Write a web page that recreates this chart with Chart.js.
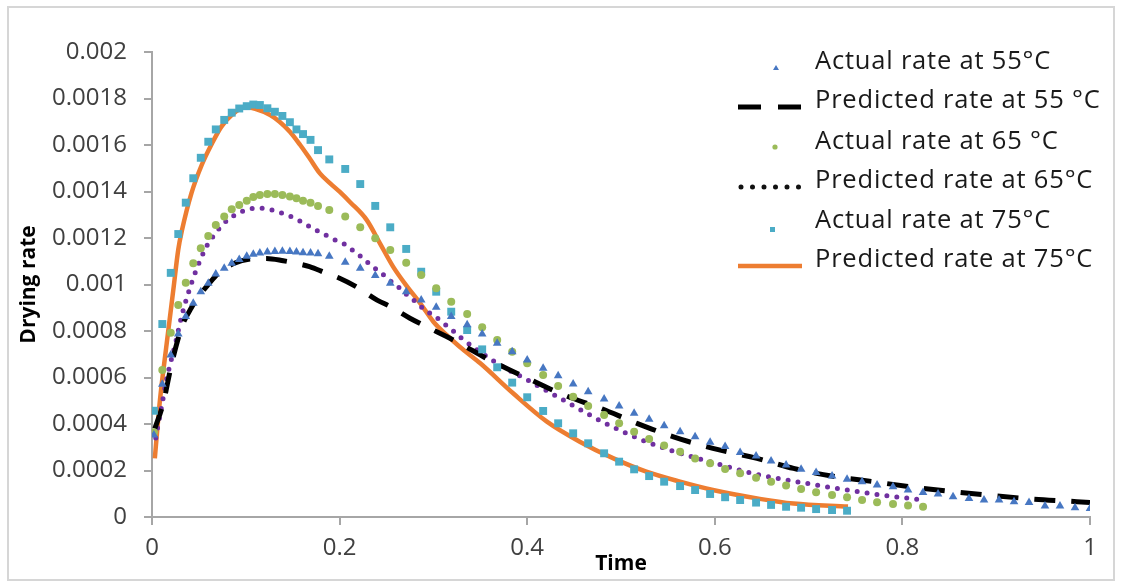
<!DOCTYPE html>
<html>
<head>
<meta charset="utf-8">
<script src="https://cdn.jsdelivr.net/npm/chart.js@4.4.1/dist/chart.umd.min.js"></script>
<style>
  html, body { margin: 0; padding: 0; background: #fff; }
  #wrap { position: relative; width: 1121px; height: 582px; }
</style>
</head>
<body>
<div id="wrap"><canvas id="chart" width="1121" height="582"></canvas></div>
<script>
// measured sampling times (normalised), shared by the three measured series
const timeActual = [0.002, 0.011, 0.020, 0.028, 0.036, 0.044, 0.052, 0.060, 0.068, 0.077,
  0.085, 0.093, 0.101, 0.108, 0.115, 0.123, 0.131, 0.139, 0.147, 0.154,
  0.161, 0.169, 0.177, 0.189, 0.206, 0.222, 0.238, 0.254, 0.271, 0.287,
  0.303, 0.319, 0.336, 0.352, 0.368, 0.384, 0.400, 0.417, 0.433, 0.449,
  0.465, 0.482, 0.498, 0.514, 0.530, 0.546, 0.563, 0.579, 0.595, 0.611,
  0.627, 0.644, 0.660, 0.676, 0.692, 0.708, 0.725, 0.741, 0.757, 0.773,
  0.790, 0.806, 0.822, 0.838, 0.854, 0.871, 0.887, 0.903, 0.919, 0.935,
  0.952, 0.968, 0.984, 1.000];

const actual55 = [0.000353, 0.000571, 0.000697, 0.000787, 0.000862, 0.000919, 0.000969, 0.001005, 0.001045, 0.00107,
  0.001091, 0.001108, 0.001121, 0.00113, 0.001136, 0.00114, 0.001142, 0.001143, 0.001142, 0.00114,
  0.001137, 0.001135, 0.001132, 0.001122, 0.001096, 0.00107, 0.001039, 0.001005, 0.000969, 0.000933,
  0.000902, 0.000862, 0.000827, 0.000787, 0.000747, 0.000711, 0.000675, 0.00064, 0.000608, 0.000572,
  0.000539, 0.000508, 0.000477, 0.000446, 0.00042, 0.000393, 0.000367, 0.000345, 0.000321, 0.000303,
  0.000277, 0.000262, 0.000241, 0.000224, 0.000205, 0.000191, 0.000176, 0.000162, 0.000152, 0.000138,
  0.00013, 0.000116, 0.000105, 0.000099, 0.000087, 0.00008, 0.000073, 0.000073, 0.000066, 0.000062,
  0.000047, 0.000047, 0.00004, 0.000037];

const actual65 = [0.000364, 0.000632, 0.000793, 0.000912, 0.001008, 0.001091, 0.001156, 0.001209, 0.001256, 0.001292,
  0.001324, 0.001342, 0.00136, 0.001376, 0.001385, 0.001389, 0.001389, 0.001385, 0.001378, 0.001371,
  0.00136, 0.001352, 0.001338, 0.00132, 0.001292, 0.001246, 0.001199, 0.001148, 0.001094, 0.001041,
  0.000984, 0.000926, 0.000873, 0.000816, 0.000761, 0.000711, 0.000661, 0.000611, 0.000563, 0.000517,
  0.000477, 0.000439, 0.000403, 0.000367, 0.000335, 0.000307, 0.000281, 0.000252, 0.000231, 0.000206,
  0.000188, 0.000169, 0.000152, 0.000135, 0.00012, 0.000106, 0.000095, 0.000085, 0.000073, 0.000063,
  0.000056, 0.000049, 0.000044];

const actual75 = [0.000457, 0.00083, 0.00105, 0.001217, 0.001352, 0.001457, 0.001545, 0.001614, 0.001667, 0.001708,
  0.001739, 0.001757, 0.001767, 0.001774, 0.001772, 0.001758, 0.001743, 0.001725, 0.001698, 0.001667,
  0.001647, 0.001622, 0.001578, 0.001538, 0.001497, 0.001432, 0.001338, 0.001246, 0.001153, 0.001055,
  0.000969, 0.000883, 0.000804, 0.000721, 0.000644, 0.000578, 0.000515, 0.000456, 0.000403, 0.00036,
  0.000317, 0.000274, 0.000238, 0.000205, 0.000176, 0.000152, 0.000133, 0.000116, 0.000099, 0.000085,
  0.000073, 0.000062, 0.000052, 0.000044, 0.00004, 0.000034, 0.00003, 0.000027];

// model curves
const predTime55 = [0.003, 0.012, 0.021, 0.032, 0.042, 0.051, 0.060, 0.070, 0.087, 0.105,
  0.122, 0.140, 0.155, 0.168, 0.185, 0.200, 0.218, 0.240, 0.254, 0.275,
  0.293, 0.314, 0.328, 0.360, 0.400, 0.439, 0.478, 0.517, 0.556, 0.598,
  0.645, 0.684, 0.726, 0.769, 0.812, 0.854, 0.897, 0.940, 0.986, 1.000];
const predRate55 = [0.00038, 0.00049, 0.00066, 0.00082, 0.0009, 0.000955, 0.001, 0.001045, 0.00109, 0.00111,
  0.001112, 0.001102, 0.00109, 0.001077, 0.00105, 0.001027, 0.00099, 0.000933, 0.000905, 0.000855,
  0.000818, 0.000776, 0.000747, 0.000675, 0.000597, 0.000525, 0.000468, 0.000403, 0.000345, 0.000295,
  0.000252, 0.000209, 0.000175, 0.000152, 0.000128, 0.000109, 0.000092, 0.000077, 0.000066, 0.000062];

const predTime65 = [0.004, 0.010, 0.016, 0.025, 0.032, 0.040, 0.046, 0.058, 0.065, 0.075,
  0.083, 0.092, 0.103, 0.115, 0.128, 0.139, 0.150, 0.161, 0.171, 0.183,
  0.194, 0.205, 0.216, 0.225, 0.234, 0.244, 0.253, 0.263, 0.272, 0.281,
  0.291, 0.302, 0.311, 0.321, 0.330, 0.368, 0.400, 0.440, 0.480, 0.520,
  0.560, 0.600, 0.640, 0.690, 0.735, 0.775, 0.822];
const predRate65 = [0.00034, 0.00047, 0.0006, 0.000747, 0.00087, 0.00098, 0.00105, 0.001163, 0.001206, 0.001256,
  0.001285, 0.001306, 0.001324, 0.001328, 0.00132, 0.001306, 0.001289, 0.001266, 0.001242, 0.001217,
  0.001194, 0.001174, 0.001141, 0.001113, 0.00108, 0.001051, 0.001019, 0.000988, 0.000955, 0.000926,
  0.00089, 0.000862, 0.000833, 0.000801, 0.000769, 0.000661, 0.00059, 0.0005, 0.00041, 0.000335,
  0.000278, 0.000232, 0.000188, 0.00015, 0.00012, 0.000096, 0.000073];

const predTime75 = [0.003, 0.0085, 0.0157, 0.0227, 0.028, 0.032, 0.042, 0.053, 0.064, 0.074,
  0.085, 0.099, 0.110, 0.126, 0.136, 0.147, 0.158, 0.168, 0.179, 0.190,
  0.200, 0.211, 0.229, 0.243, 0.257, 0.272, 0.286, 0.300, 0.314, 0.328,
  0.350, 0.385, 0.421, 0.456, 0.492, 0.527, 0.563, 0.598, 0.648, 0.684,
  0.742];
const predRate75 = [0.000252, 0.000503, 0.000747, 0.000976, 0.00115, 0.001234, 0.001392, 0.001514, 0.001607, 0.001679,
  0.001729, 0.001762, 0.001756, 0.001729, 0.0017, 0.001657, 0.0016, 0.001543, 0.001478, 0.001435,
  0.001399, 0.001355, 0.001277, 0.001177, 0.001077, 0.000991, 0.000919, 0.00084, 0.000783, 0.000732,
  0.000661, 0.000532, 0.00041, 0.000324, 0.000252, 0.000195, 0.000152, 0.000116, 0.000078, 0.000058,
  0.000045];

const xTickValues = [0, 0.2, 0.4, 0.6, 0.8, 1];
const xTickLabels = ['0', '0.2', '0.4', '0.6', '0.8', '1'];
const yTickValues = [0, 0.0002, 0.0004, 0.0006, 0.0008, 0.001, 0.0012, 0.0014, 0.0016, 0.0018, 0.002];
const yTickLabels = ['0', '0.0002', '0.0004', '0.0006', '0.0008', '0.001', '0.0012', '0.0014', '0.0016', '0.0018', '0.002'];

const FONT = '"Open Sans", "Noto Sans", sans-serif';

function pairs(xs, ys) {
  return ys.map((y, i) => ({x: xs[i], y: y}));
}

function measured(label, values, color, style, radius) {
  return {
    label: label, type: 'scatter', order: 0,
    data: pairs(timeActual, values),
    showLine: false,
    pointStyle: style, pointRadius: radius, pointHoverRadius: radius,
    backgroundColor: color, borderColor: color, pointBorderWidth: 0,
    legendSymbol: {kind: 'point', color: color}
  };
}

function predicted(label, xs, ys, color, width, dash, cap, legendColor) {
  return {
    label: label, type: 'line', order: 1,
    data: pairs(xs, ys),
    borderColor: color, borderWidth: width,
    borderDash: dash, borderCapStyle: cap,
    cubicInterpolationMode: 'monotone',
    pointRadius: 0, fill: false,
    legendSymbol: {kind: 'line', color: legendColor || color}
  };
}

const datasets = [
  measured('Actual rate at 55°C', actual55, '#4777C2', 'triangle', 5),
  predicted('Predicted rate at 55 °C', predTime55, predRate55, '#000000', 5, [21, 16], 'butt'),
  measured('Actual rate at 65 °C', actual65, '#9BBB59', 'circle', 4),
  predicted('Predicted rate at 65°C', predTime65, predRate65, '#7030A0', 5, [0, 10], 'round', '#111111'),
  measured('Actual rate at 75°C', actual75, '#4BACC6', 'rect', 5.6),
  predicted('Predicted rate at 75°C', predTime75, predRate75, '#ED7D31', 4.5, [], 'butt')
];

// white background + thin outer frame
const framePlugin = {
  id: 'frame',
  beforeDraw(chart) {
    const ctx = chart.ctx;
    ctx.save();
    ctx.fillStyle = '#ffffff';
    ctx.fillRect(0, 0, chart.width, chart.height);
    ctx.strokeStyle = '#d6d6d6';
    ctx.lineWidth = 2;
    ctx.strokeRect(8, 7, 1106, 573);
    ctx.restore();
  }
};

// legend drawn in the upper right, inside the plot
const legendPlugin = {
  id: 'sideLegend',
  afterDraw(chart) {
    const ctx = chart.ctx;
    const rows = [62, 101, 142, 181, 221, 260];
    ctx.save();
    ctx.font = '25.5px ' + FONT;
    ctx.letterSpacing = '0.8px';
    ctx.textBaseline = 'middle';
    chart.data.datasets.forEach((ds, i) => {
      const y = rows[i];
      const sym = ds.legendSymbol;
      if (sym.kind === 'point') {
        ctx.fillStyle = sym.color;
        ctx.beginPath();
        if (ds.pointStyle === 'triangle') {
          ctx.moveTo(776, y + 3); ctx.lineTo(779, y + 8); ctx.lineTo(773, y + 8);
        } else if (ds.pointStyle === 'rect') {
          ctx.rect(770, y + 6, 5, 5);
        } else {
          ctx.arc(775, y + 5, 2.6, 0, Math.PI * 2);
        }
        ctx.fill();
      } else {
        ctx.strokeStyle = sym.color;
        ctx.lineWidth = ds.borderWidth;
        ctx.lineCap = ds.borderCapStyle;
        ctx.setLineDash(ds.borderDash.length ? (ds.borderCapStyle === 'round' ? [0, 11.5] : [23, 17]) : []);
        ctx.beginPath();
        ctx.moveTo(ds.borderCapStyle === 'round' ? 741 : 738, y + 6);
        ctx.lineTo(802, y + 6);
        ctx.stroke();
        ctx.setLineDash([]);
      }
      ctx.fillStyle = '#1a1a1a';
      ctx.fillText(ds.label, 815, y);
    });
    ctx.restore();
  }
};

new Chart(document.getElementById('chart'), {
  type: 'scatter',
  data: {datasets: datasets},
  options: {
    responsive: false,
    animation: false,
    events: [],
    layout: {padding: {left: 0, right: 31, top: 52, bottom: 0}},
    plugins: {legend: {display: false}, tooltip: {enabled: false}},
    scales: {
      x: {
        type: 'linear', min: 0, max: 1,
        afterFit(scale) { scale.height = 65; },
        afterBuildTicks(scale) { scale.ticks = xTickValues.map(v => ({value: v})); },
        ticks: {
          callback: (v, i) => xTickLabels[i],
          font: {family: FONT, size: 24}, color: '#404040', padding: 9, maxRotation: 0
        },
        grid: {drawOnChartArea: false, drawTicks: true, tickLength: 8, color: '#a6a6a6', lineWidth: 2},
        border: {color: '#a6a6a6', width: 2},
        title: {display: true, text: 'Time', font: {family: FONT, size: 21, weight: 'bold'}, color: '#000', padding: {top: 0, bottom: 5}}
      },
      y: {
        type: 'linear', min: 0, max: 0.002,
        afterFit(scale) { scale.width = 152; },
        afterBuildTicks(scale) { scale.ticks = yTickValues.map(v => ({value: v})); },
        ticks: {
          callback: (v, i) => yTickLabels[i],
          font: {family: FONT, size: 24}, color: '#404040', padding: 17
        },
        grid: {drawOnChartArea: false, drawTicks: true, tickLength: 8, color: '#a6a6a6', lineWidth: 2},
        border: {color: '#a6a6a6', width: 2},
        title: {display: true, text: 'Drying rate', font: {family: FONT, size: 21, weight: 'bold'}, color: '#000', padding: {top: 16, bottom: 0}}
      }
    }
  },
  plugins: [framePlugin, legendPlugin]
});
</script>
</body>
</html>
